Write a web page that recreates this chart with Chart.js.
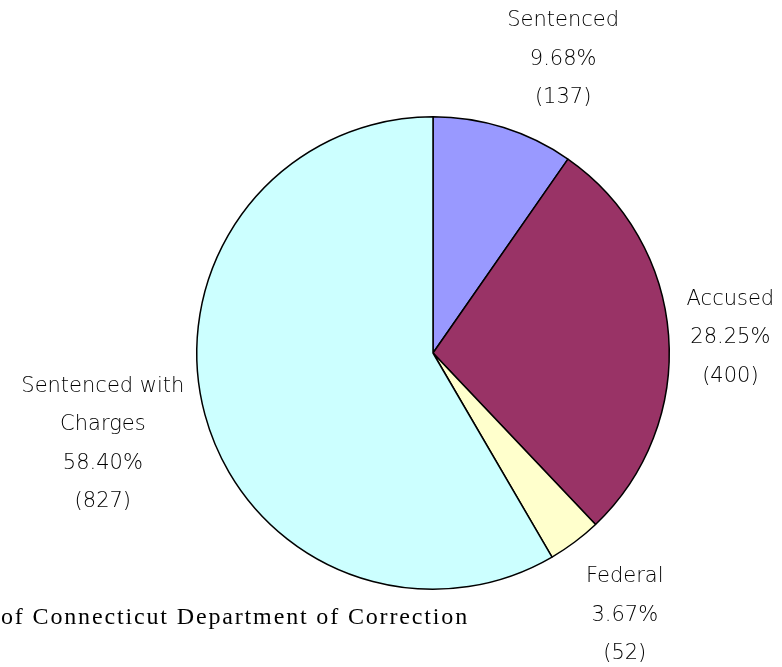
<!DOCTYPE html>
<html>
<head>
<meta charset="utf-8">
<script src="https://cdn.jsdelivr.net/npm/chart.js@4"></script>
<style>
  body { margin: 0; background: #fff; }
  canvas { display: block; }
</style>
</head>
<body>
<canvas id="pieChart" width="782" height="667"></canvas>
<script>
// Datos de la gráfica
const categories = ['Sentenced', 'Accused', 'Federal', 'Sentenced with Charges'];
const counts = [137, 400, 52, 827];
const percents = ['9.68%', '28.25%', '3.67%', '58.40%'];
const sliceColors = ['#9999ff', '#993366', '#ffffcc', '#ccffff'];
const sourceText = 'of Connecticut Department of Correction';

// lineas de cada etiqueta
const labelLines = [
  ['Sentenced', percents[0], '(' + counts[0] + ')'],
  ['Accused', percents[1], '(' + counts[1] + ')'],
  ['Federal', percents[2], '(' + counts[2] + ')'],
  ['Sentenced with', 'Charges', percents[3], '(' + counts[3] + ')']
];
// ajuste fino de cada etiqueta (px)
const nudges = [[34, 13], [-23, 9], [-1, 5], [-20, 7]];

const labelPlugin = {
  id: 'outsideLabels',
  afterDraw(chart) {
    const c = chart.ctx;
    const meta = chart.getDatasetMeta(0);
    c.save();
    c.fillStyle = '#000';
    c.font = '200 21px "DejaVu Sans"';
    c.textAlign = 'center';
    c.textBaseline = 'middle';
    const lh = 38.5;
    meta.data.forEach((arc, i) => {
      const mid = (arc.startAngle + arc.endAngle) / 2;
      const r = arc.outerRadius * 1.36;
      const cx = arc.x + Math.cos(mid) * r + nudges[i][0];
      const cy = arc.y + Math.sin(mid) * r + nudges[i][1];
      const lines = labelLines[i];
      const top = cy - (lines.length - 1) * lh / 2;
      lines.forEach((t, j) => c.fillText(t, cx, top + j * lh));
    });
    // fuente (recortada a la izquierda)
    c.fillStyle = '#000';
    c.font = '24px "Liberation Serif"';
    c.textAlign = 'left';
    c.textBaseline = 'alphabetic';
    const w = c.measureText(sourceText).width;
    const extra = (466 - w) / (sourceText.length - 1);
    if (extra > 0) c.letterSpacing = extra.toFixed(2) + 'px';
    c.fillText(sourceText, 1, 624);
    c.restore();
  }
};

const ctx = document.getElementById('pieChart').getContext('2d');

new Chart(ctx, {
  type: 'pie',
  data: {
    labels: categories,
    datasets: [{
      data: counts,
      backgroundColor: sliceColors,
      borderColor: '#000',
      borderWidth: 1.5
    }]
  },
  options: {
    responsive: false,
    animation: false,
    layout: {
      padding: { left: 196, right: 112, top: 116, bottom: 77 }
    },
    plugins: {
      legend: { display: false },
      tooltip: { enabled: false }
    }
  },
  plugins: [labelPlugin]
});
</script>
</body>
</html>
